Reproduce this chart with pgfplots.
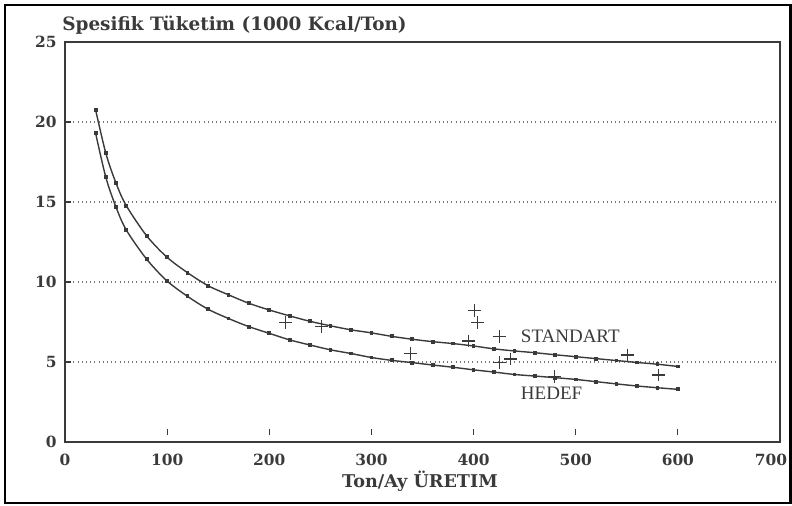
\documentclass[border=0pt]{standalone}
\usepackage{pgfplots}
\pgfplotsset{compat=1.18}
\usepackage{fontspec}
\setmainfont{DejaVu Serif}
\newfontfamily\lserif{Liberation Serif}
\definecolor{ink}{HTML}{3A3A3A}
\definecolor{gridc}{HTML}{777777}
\begin{document}
\begin{tikzpicture}[x=1pt,y=1pt]
\useasboundingbox (0,0) rectangle (396,253);
\draw[line width=1.2pt] (2.5,1.5) rectangle (395.2,250.5);
\begin{axis}[
  at={(32.5pt,32pt)}, anchor=south west,
  scale only axis, width=357.5pt, height=200pt,
  xmin=0, xmax=700, ymin=0, ymax=25,
  xtick={0,100,...,700}, ytick={0,5,...,25},
  xticklabels={0,100,200,300,400,500,600,\hspace*{-9pt}700},
  xtick pos=bottom, ytick pos=left,
  tick align=inside, major tick length=3pt,
  axis line style={draw=ink, line width=0.7pt},
  every tick/.style={draw=ink, line width=0.6pt},
  x tick style={yshift=3.5pt},
  ymajorgrids, grid style={draw=gridc, line width=0.7pt, dash pattern=on 0.5pt off 1.6pt},
  /pgf/number format/assume math mode=true,
  ticklabel style={font=\bfseries\fontsize{7.7}{9}\selectfont, text=ink},
  xticklabel style={anchor=center, yshift=-9pt},
  yticklabel style={anchor=east, inner sep=0pt, xshift=-4pt},
  clip=false,
]
\addplot[ink, line width=0.7pt, smooth, mark=square*, mark size=0.6pt] coordinates {
(30,20.75) (40,18.04) (50,16.17) (60,14.77) (80,12.88) (100,11.54) (120,10.58)
(140,9.77) (160,9.20) (180,8.67) (200,8.25) (220,7.88) (240,7.54) (260,7.26)
(280,7.01) (300,6.82) (320,6.60) (340,6.42) (360,6.27) (380,6.15) (400,6.00)
(420,5.82) (440,5.69) (460,5.58) (480,5.45) (500,5.33) (520,5.21) (540,5.09)
(560,4.97) (580,4.86) (600,4.72)};
\addplot[ink, line width=0.7pt, smooth, mark=square*, mark size=0.6pt] coordinates {
(30,19.29) (40,16.54) (50,14.67) (60,13.25) (80,11.42) (100,10.06) (120,9.10)
(140,8.30) (160,7.72) (180,7.21) (200,6.79) (220,6.38) (240,6.06) (260,5.76)
(280,5.53) (300,5.28) (320,5.10) (340,4.96) (360,4.81) (380,4.67) (400,4.51)
(420,4.37) (440,4.22) (460,4.12) (480,4.02) (500,3.91) (520,3.77) (540,3.63)
(560,3.50) (580,3.39) (600,3.29)};
\addplot[only marks, mark=+, mark size=3.2pt, draw=ink, line width=0.6pt] coordinates {
(216,7.46) (251,7.21) (338,5.54) (395,6.31) (401,8.21) (403.5,7.48)
(425,6.58) (425,4.96) (436,5.19) (479,4.08) (551,5.44) (581,4.19)};
\node[anchor=west, inner sep=0pt, text=ink, font=\lserif\fontsize{9.5}{11}\selectfont] at (axis cs:446,6.58) {STANDART};
\node[anchor=west, inner sep=0pt, text=ink, font=\lserif\fontsize{9.5}{11}\selectfont] at (axis cs:446,3.04) {HEDEF};
\end{axis}
\node[anchor=base west, inner sep=0pt, text=ink, font=\bfseries\fontsize{9.2}{11}\selectfont] at (31,237.5) {Spesifik Tüketim (1000 Kcal/Ton)};
\node[anchor=base, inner sep=0pt, text=ink, font=\bfseries\fontsize{8.8}{10}\selectfont] at (210,9) {Ton/Ay ÜRETIM};
\end{tikzpicture}
\end{document}
